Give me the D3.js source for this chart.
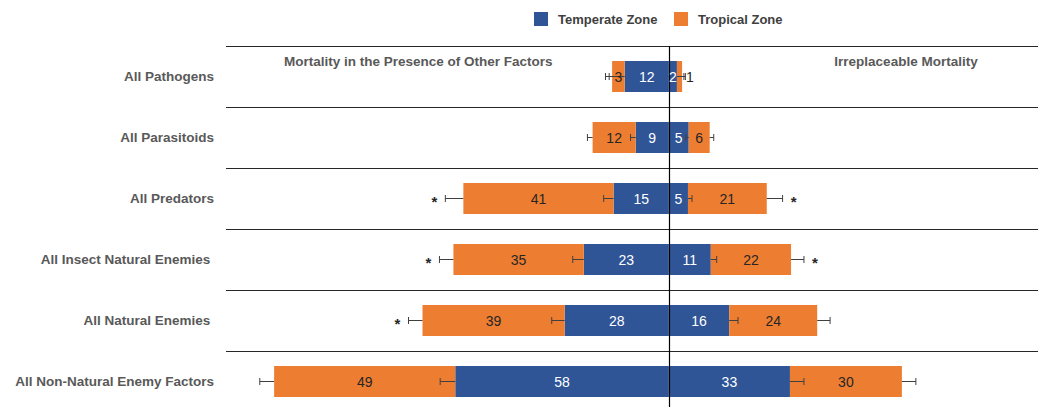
<!DOCTYPE html>
<html>
<head>
<meta charset="utf-8">
<script src="https://cdn.jsdelivr.net/npm/d3@7"></script>
<style>
  body { margin: 0; background: #ffffff; }
  text { font-family: "Liberation Sans", Arial, sans-serif; }
</style>
</head>
<body>
<svg id="chart"></svg>
<script>
// categories, top to bottom (two of them carry a trailing space, as in the source)
var categories = ["All Pathogens", "All Parasitoids", "All Predators",
                  "All Insect Natural Enemies ", "All Natural Enemies ",
                  "All Non-Natural Enemy Factors"];

// left panel: mortality in the presence of other factors
var leftTemperate = [12, 9, 15, 23.1, 28.3, 58];
var leftTropical  = [3.4, 11.7, 40.8, 35.4, 38.6, 49.2];
var leftTemperateErr = [5.2, 1.4, 2.7, 3.0, 3.5, 4.1];
var leftTropicalErr  = [0.8, 1.4, 4.9, 3.8, 3.8, 3.9];
var leftSig = [false, false, true, true, true, false];

// right panel: irreplaceable mortality
var rightTemperate = [2.2, 5.4, 5.2, 11.4, 16.4, 32.9];
var rightTropical  = [1.4, 5.7, 21.4, 21.8, 23.9, 30.4];
var rightTemperateErr = [1.9, -0.8, 1.1, 1.6, 2.4, 3.8];
var rightTropicalErr  = [0.9, 1.1, 4.3, 3.5, 3.5, 3.8];
var rightSig = [false, false, true, true, false, false];

var leftLabels  = [["3", "12"], ["12", "9"], ["41", "15"], ["35", "23"], ["39", "28"], ["49", "58"]];
var rightLabels = [["2", "1"], ["5", "6"], ["5", "21"], ["11", "22"], ["16", "24"], ["33", "30"]];

var seriesNames = ["Temperate Zone", "Tropical Zone"];
var panelTitles = ["Mortality in the Presence of Other Factors", "Irreplaceable Mortality"];

var screen = { width: 1043, height: 407 };
var colors = d3.scaleOrdinal().domain(seriesNames).range(["#2f5597", "#ed7d31"]);

var svg = d3.select("#chart")
            .attr("width", screen.width)
            .attr("height", screen.height);

var xScale = d3.scaleLinear()
               .domain([-120, 100])
               .range([227, 1037]);

var yScale = d3.scaleBand()
               .domain(categories)
               .range([46, 412]);

var barHeight = 31;
var rowTop = function(c) { return yScale(c) + (yScale.bandwidth() - barHeight) / 2; };
var rowMid = function(c) { return yScale(c) + yScale.bandwidth() / 2; };

// build segments: side -1 = left, 1 = right
var segments = [];
categories.forEach(function(c, i) {
  segments.push({cat: c, side: -1, series: "Temperate Zone", start: 0, end: leftTemperate[i],
                 err: leftTemperateErr[i], label: leftLabels[i][1]});
  segments.push({cat: c, side: -1, series: "Tropical Zone", start: leftTemperate[i],
                 end: leftTemperate[i] + leftTropical[i], err: leftTropicalErr[i], label: leftLabels[i][0]});
  segments.push({cat: c, side: 1, series: "Temperate Zone", start: 0, end: rightTemperate[i],
                 err: rightTemperateErr[i], label: rightLabels[i][0]});
  segments.push({cat: c, side: 1, series: "Tropical Zone", start: rightTemperate[i],
                 end: rightTemperate[i] + rightTropical[i], err: rightTropicalErr[i], label: rightLabels[i][1]});
});

// row separators
svg.append("g")
   .selectAll("line")
   .data(categories)
   .enter()
   .append("line")
   .attr("x1", 226)
   .attr("x2", 1038)
   .attr("y1", function(d) { return Math.round(yScale(d)) + 0.5; })
   .attr("y2", function(d) { return Math.round(yScale(d)) + 0.5; })
   .attr("stroke", "#262626")
   .attr("stroke-width", 1);

// bars
svg.append("g")
   .selectAll("rect")
   .data(segments)
   .enter()
   .append("rect")
   .attr("x", function(d) { return Math.min(xScale(d.side * d.start), xScale(d.side * d.end)); })
   .attr("width", function(d) { return Math.abs(xScale(d.side * d.end) - xScale(d.side * d.start)); })
   .attr("y", function(d) { return rowTop(d.cat); })
   .attr("height", barHeight)
   .attr("fill", function(d) { return colors(d.series); });

// zero line
svg.append("line")
   .attr("x1", Math.round(xScale(0)) + 0.5)
   .attr("x2", Math.round(xScale(0)) + 0.5)
   .attr("y1", yScale(categories[0]))
   .attr("y2", screen.height)
   .attr("stroke", "#000000")
   .attr("stroke-width", 1.2);

// error bars
var errs = svg.append("g")
              .selectAll("g")
              .data(segments)
              .enter()
              .append("g")
              .attr("stroke", "#404040")
              .attr("stroke-width", 1);

errs.append("line")
    .attr("x1", function(d) { return xScale(d.side * d.end); })
    .attr("x2", function(d) { return xScale(d.side * (d.end + d.err)); })
    .attr("y1", function(d) { return rowMid(d.cat); })
    .attr("y2", function(d) { return rowMid(d.cat); });

errs.append("line")
    .attr("x1", function(d) { return xScale(d.side * (d.end + d.err)); })
    .attr("x2", function(d) { return xScale(d.side * (d.end + d.err)); })
    .attr("y1", function(d) { return rowMid(d.cat) - 3.5; })
    .attr("y2", function(d) { return rowMid(d.cat) + 3.5; });

// value labels; a segment too thin for its number gets it just past the cap
var tooThin = function(d) { return Math.abs(xScale(d.end) - xScale(d.start)) < 7; };

svg.append("g")
   .selectAll("text")
   .data(segments)
   .enter()
   .append("text")
   .text(function(d) { return d.label; })
   .attr("x", function(d) {
     if (tooThin(d) && d.series == "Tropical Zone") return xScale(d.side * (d.end + d.err)) + d.side * 0.5;
     return (xScale(d.side * d.start) + xScale(d.side * d.end)) / 2;
   })
   .attr("y", function(d) { return rowMid(d.cat) + 5; })
   .attr("text-anchor", function(d) {
     if (tooThin(d) && d.series == "Tropical Zone") return d.side > 0 ? "start" : "end";
     return "middle";
   })
   .attr("font-size", "14px")
   .attr("fill", function(d) { return d.series == "Temperate Zone" ? "#ffffff" : "#262626"; });

// significance stars
var stars = [];
categories.forEach(function(c, i) {
  if (leftSig[i]) stars.push({cat: c, x: xScale(-(leftTemperate[i] + leftTropical[i] + leftTropicalErr[i])) - 11});
  if (rightSig[i]) stars.push({cat: c, x: xScale(rightTemperate[i] + rightTropical[i] + rightTropicalErr[i]) + 11});
});

svg.append("g")
   .selectAll("text")
   .data(stars)
   .enter()
   .append("text")
   .text("*")
   .attr("x", function(d) { return d.x; })
   .attr("y", function(d) { return rowMid(d.cat) + 8; })
   .attr("text-anchor", "middle")
   .attr("font-size", "15px")
   .attr("font-weight", "bold")
   .attr("fill", "#262626");

// category labels
svg.append("g")
   .selectAll("text")
   .data(categories)
   .enter()
   .append("text")
   .text(function(d) { return d; })
   .attr("x", 214)
   .attr("y", function(d) { return rowMid(d) + 4; })
   .attr("text-anchor", "end")
   .style("white-space", "pre")
   .attr("font-size", "13.5px")
   .attr("font-weight", "bold")
   .attr("fill", "#595959");

// panel titles
svg.append("text")
   .text(panelTitles[0])
   .attr("x", 284)
   .attr("y", 66)
   .attr("font-size", "13.5px")
   .attr("font-weight", "bold")
   .attr("fill", "#595959");

svg.append("text")
   .text(panelTitles[1])
   .attr("x", 906)
   .attr("y", 66)
   .attr("text-anchor", "middle")
   .attr("font-size", "13.5px")
   .attr("font-weight", "bold")
   .attr("fill", "#595959");

// legend
var legend = svg.append("g")
                .selectAll("g")
                .data(seriesNames)
                .enter()
                .append("g")
                .attr("transform", function(d, i) { return "translate(" + (534 + i * 140) + ",12)"; });

legend.append("rect")
      .attr("width", 14)
      .attr("height", 14)
      .attr("fill", function(d) { return colors(d); });

legend.append("text")
      .text(function(d) { return d; })
      .attr("x", 24)
      .attr("y", 12)
      .attr("font-size", "13px")
      .attr("font-weight", "bold")
      .attr("fill", "#404040");
</script>
</body>
</html>
